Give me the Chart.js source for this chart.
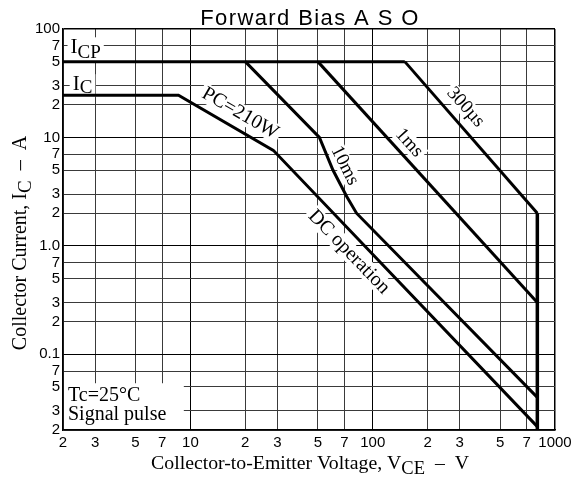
<!DOCTYPE html>
<html><head><meta charset="utf-8">
<script src="https://cdn.jsdelivr.net/npm/chart.js@4.4.1/dist/chart.umd.min.js"></script>
<style>html,body{margin:0;padding:0;background:#fff;}#wrap{width:576px;height:482px;position:relative;}</style>
</head><body><div id="wrap"><canvas id="c" width="576" height="482"></canvas></div>
<script>
// ---------- data ----------
const chartTitle = 'Forward Bias A S O';
const xTickValues = [2,3,5,7,10,20,30,50,70,100,200,300,500,700,1000];
const xTickLabels = ['2','3','5','7','10','2','3','5','7','100','2','3','5','7','1000'];
const yTickValues = [0.02,0.03,0.05,0.07,0.1,0.2,0.3,0.5,0.7,1,2,3,5,7,10,20,30,50,70,100];
const yTickLabels = ['2','3','5','7','0.1','2','3','5','7','1.0','2','3','5','7','10','2','3','5','7','100'];

const icpV = [2, 150];            const icpI = [50, 50];
const dcV = [2, 8.6, 28.5, 800];  const dcI = [24.5, 24.5, 7.6, 0.0215];
const ms10V = [20, 51, 60.5, 72, 81.5, 800]; const ms10I = [50, 10, 5, 2.85, 2, 0.04];
const ms1V = [50, 800];           const ms1I = [50, 0.3];
const us300V = [150, 800];        const us300I = [50, 2];
const limV = [800, 800];          const limI = [2, 0.02];

// ---------- annotations (data coordinates) ----------
const SERIF = "'Liberation Serif','Times New Roman',serif";
const SANS = "'Liberation Sans',Arial,sans-serif";
const noteBoxes = [ {x0:2, x1:9.2, y0:0.02, y1:0.054} ];
const noteTexts = [
  {parts:[['I',0],['CP',1]], x:2.2, y:60, size:21, sub:19, shift:5, box:true},
  {parts:[['I',0],['C',1]], x:2.26, y:27.4, size:21, sub:19, shift:3, box:true},
  {parts:[['PC=210W',0]], x:18.9, y:17.1, angle:30, size:20, center:true, box:true},
  {parts:[['10ms',0]], x:71.2, y:5.56, angle:63, size:19, center:true, box:true},
  {parts:[['1ms',0]], x:160, y:9.07, angle:48, size:19, center:true, box:true},
  {parts:[['300µs',0]], x:327, y:19.3, angle:48, size:19, center:true, box:true},
  {parts:[['DC operation',0]], x:74.9, y:0.895, angle:46, size:20, center:true, box:true},
  {parts:[['Tc=25°C',0]], x:2.13, y:0.037, size:20},
  {parts:[['Signal pulse',0]], x:2.13, y:0.0247, size:20}
];

const toXY = (xs, ys) => xs.map((x, i) => ({x: x, y: ys[i]}));
const mk = (label, xs, ys, w) => ({label, data: toXY(xs, ys), borderColor:'#000', backgroundColor:'#000',
  borderWidth:w, showLine:true, pointRadius:0, pointHoverRadius:0, fill:false, tension:0,
  borderJoinStyle:'miter', borderCapStyle:'butt'});

function fnt(size){ return size + 'px ' + SERIF; }
function richWidth(ctx, t){
  let w = 0;
  t.parts.forEach(([s, sub]) => { ctx.font = fnt(sub ? t.sub : t.size); w += ctx.measureText(s).width; });
  return w;
}
function drawRich(ctx, t, x, y){
  let cx = x;
  t.parts.forEach(([s, sub]) => { ctx.font = fnt(sub ? t.sub : t.size); ctx.fillText(s, cx, y + (sub ? t.shift : 0)); cx += ctx.measureText(s).width; });
}

const notesPlugin = {
  id: 'notes',
  beforeDatasetsDraw(chart){
    const ctx = chart.ctx, xs = chart.scales.x, ys = chart.scales.y;
    ctx.save();
    noteBoxes.forEach(b => {
      const l = xs.getPixelForValue(b.x0), r = xs.getPixelForValue(b.x1);
      const t = ys.getPixelForValue(b.y1), btm = ys.getPixelForValue(b.y0);
      ctx.fillStyle = '#fff';
      ctx.fillRect(l + 1, t, r - l - 1, btm - t - 1);
    });
    noteTexts.forEach(t => {
      const px = xs.getPixelForValue(t.x), py = ys.getPixelForValue(t.y);
      const w = richWidth(ctx, t);
      ctx.save();
      ctx.translate(px, py);
      if (t.angle) ctx.rotate(t.angle * Math.PI / 180);
      ctx.textBaseline = 'alphabetic';
      ctx.textAlign = 'left';
      const x0 = t.center ? -w / 2 : 0;
      const y0 = t.center ? t.size * 0.33 : 0;
      if (t.box) {
        ctx.fillStyle = '#fff';
        ctx.fillRect(x0 - 3, y0 - t.size * 0.75, w + 6, t.size * 0.95 + (t.shift || 0));
      }
      ctx.fillStyle = '#000';
      drawRich(ctx, t, x0, y0);
      ctx.restore();
    });
    ctx.restore();
  },
  afterDraw(chart){
    const ctx = chart.ctx, a = chart.chartArea;
    ctx.save();
    ctx.fillStyle = '#000';
    // chart title
    ctx.font = '22px ' + SANS;
    ctx.textAlign = 'center';
    ctx.textBaseline = 'alphabetic';
    try { ctx.letterSpacing = '1.4px'; } catch(e) {}
    ctx.fillText(chartTitle, (a.left + a.right) / 2 + 1, 25);
    try { ctx.letterSpacing = '0px'; } catch(e) {}
    // x axis title
    const xt = {parts:[['Collector-to-Emitter Voltage, V',0],['CE',1],['  –  V',0]], size:19.8, sub:18.5, shift:5};
    const xw = richWidth(ctx, xt);
    ctx.textAlign = 'left';
    drawRich(ctx, xt, (a.left + a.right) / 2 - xw / 2 + 1, 469);
    // y axis title
    const yt = {parts:[['Collector Current, I',0],['C',1],['  –  A',0]], size:20, sub:19, shift:5};
    const yw = richWidth(ctx, yt);
    ctx.translate(26, 243);
    ctx.rotate(-Math.PI / 2);
    drawRich(ctx, yt, -yw / 2, 0);
    ctx.restore();
  }
};

const gridColor = c => {
  const v = c.tick ? c.tick.value : 0;
  const l = Math.log10(v);
  return Math.abs(l - Math.round(l)) < 1e-6 ? '#000' : '#3a3a3a';
};

new Chart(document.getElementById('c'), {
  type: 'scatter',
  data: { datasets: [
    mk('ICP', icpV, icpI, 3),
    mk('DC operation', dcV, dcI, 3),
    mk('10ms', ms10V, ms10I, 3),
    mk('1ms', ms1V, ms1I, 3),
    mk('300µs', us300V, us300I, 3),
    mk('VCEO limit', limV, limI, 3.5)
  ]},
  options: {
    responsive: false,
    animation: false,
    events: [],
    layout: { padding: { left: 0, right: 21, top: 29, bottom: 0 } },
    plugins: { legend: { display: false }, tooltip: { enabled: false }, title: { display: false } },
    scales: {
      x: {
        type: 'logarithmic', min: 2, max: 1000,
        afterBuildTicks: s => { s.ticks = xTickValues.map(v => ({value: v})); },
        afterFit: s => { s.height = 52; },
        ticks: { autoSkip: false, maxRotation: 0, minRotation: 0, padding: 4, color: '#000',
          font: { family: SANS, size: 15 },
          callback: (v, i) => xTickLabels[i] },
        grid: { drawTicks: false, color: gridColor, lineWidth: c => (c.tick && c.tick.value === 1000) ? 1.5 : 1 },
        border: { display: true, color: '#000', width: 1.5 }
      },
      y: {
        type: 'logarithmic', min: 0.02, max: 100,
        afterBuildTicks: s => { s.ticks = yTickValues.map(v => ({value: v})); },
        afterFit: s => { s.width = 63; },
        ticks: { autoSkip: false, padding: 3, color: '#000',
          font: { family: SANS, size: 15 },
          callback: (v, i) => yTickLabels[i] },
        grid: { drawTicks: false, color: gridColor, lineWidth: c => (c.tick && c.tick.value === 100) ? 1.5 : 1 },
        border: { display: true, color: '#000', width: 1.5 }
      }
    }
  },
  plugins: [notesPlugin]
});
</script></body></html>
